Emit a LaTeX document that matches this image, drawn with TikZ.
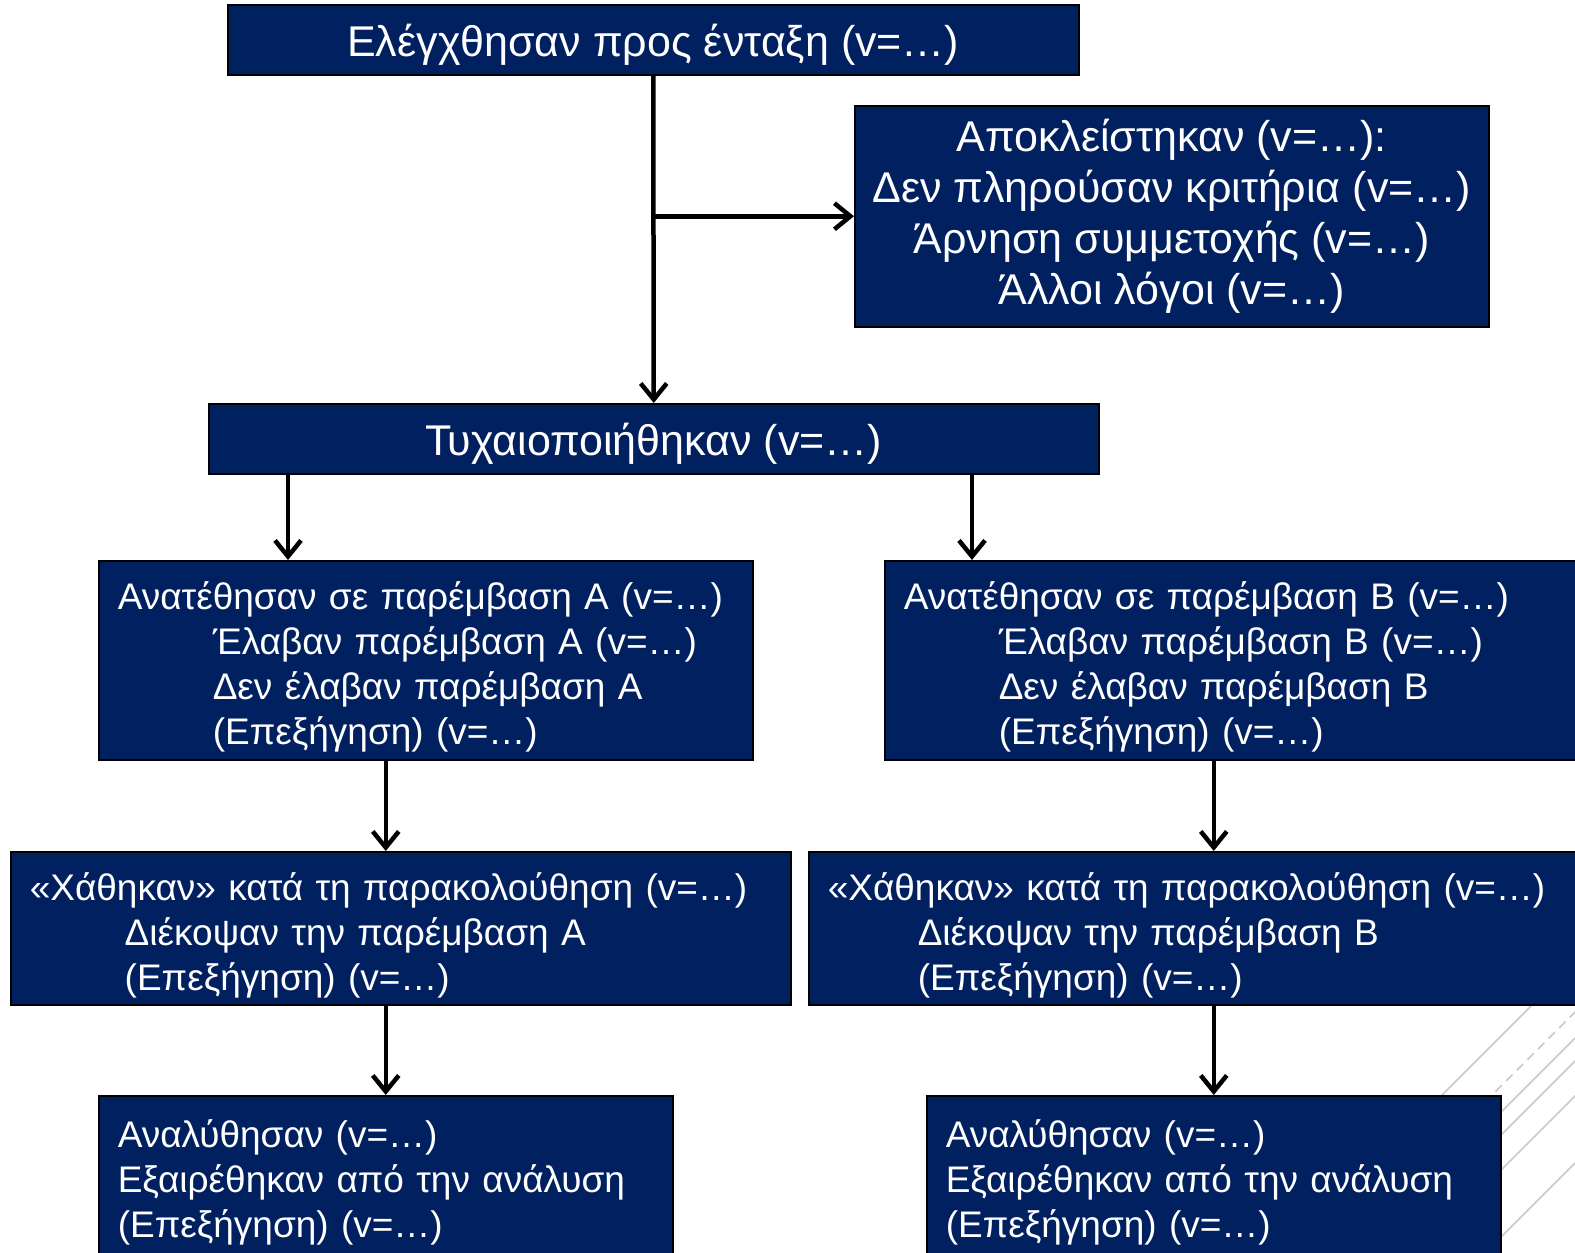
\documentclass[tikz,border=0pt]{standalone}
\usepackage{fontspec}
\setmainfont{Liberation Sans}
\usetikzlibrary{arrows.meta}
\definecolor{navy}{RGB}{0,32,96}
\colorlet{deco}{black!20}

\begin{document}
\begin{tikzpicture}[
            x=1pt, y=-1pt,
            every node/.append style={white, font=\fontsize{37}{45}\selectfont},
            box/.style={draw=black, line width=1.5pt, fill=navy, anchor=north west, inner sep=0pt,
                execute at begin node={\rule{0pt}{42pt}}},
            lbox/.style={box, inner xsep=19pt, align=left},
            bigtext/.style={font=\fontsize{43}{51}\selectfont},
            arr/.style={-{Straight Barb[length=16pt,width=26pt]}, line width=4.5pt, black},
            decoline/.style={deco, line width=1.8pt}
        ]
            \useasboundingbox (0,0) rectangle (1575,1253);
            \foreach \s in {2537,2613,2636,2671,2738}
                \draw [decoline] (1400,\s-1400) -- (1600,\s-1600);
            \draw [decoline,dash pattern=on 9pt off 6pt] (1400,1187) -- (1600,987);

            \node [box,bigtext,minimum width=851pt,minimum height=70pt] (top) at (227,4)
                {Ελέγχθησαν προς ένταξη (v=…)};
            \node [box,bigtext,minimum width=634pt,minimum height=221pt,align=center] (excl) at (854,105)
                {Αποκλείστηκαν (v=…):\\
                 Δεν πληρούσαν κριτήρια (v=…)\\
                 Άρνηση συμμετοχής (v=…)\\
                 Άλλοι λόγοι (v=…)};
            \node [box,bigtext,minimum width=890pt,minimum height=70pt] (rand) at (208,403)
                {Τυχαιοποιήθηκαν (v=…)};
            \node [lbox,text width=616pt,minimum height=199pt] (allocA) at (98,560)
                {Ανατέθησαν σε παρέμβαση A (v=…)\\
                 \hspace*{95pt}Έλαβαν παρέμβαση A (v=…)\\
                 \hspace*{95pt}Δεν έλαβαν παρέμβαση A\\
                 \hspace*{95pt}(Επεξήγηση) (v=…)};
            \node [lbox,text width=702pt,minimum height=199pt] (allocB) at (884,560)
                {Ανατέθησαν σε παρέμβαση B (v=…)\\
                 \hspace*{95pt}Έλαβαν παρέμβαση B (v=…)\\
                 \hspace*{95pt}Δεν έλαβαν παρέμβαση B\\
                 \hspace*{95pt}(Επεξήγηση) (v=…)};
            \node [lbox,text width=742pt,minimum height=153pt] (lostA) at (10,851)
                {«Χάθηκαν» κατά τη παρακολούθηση (v=…)\\
                 \hspace*{95pt}Διέκοψαν την παρέμβαση A\\
                 \hspace*{95pt}(Επεξήγηση) (v=…)};
            \node [lbox,text width=762pt,minimum height=153pt] (lostB) at (808,851)
                {«Χάθηκαν» κατά τη παρακολούθηση (v=…)\\
                 \hspace*{90pt}Διέκοψαν την παρέμβαση B\\
                 \hspace*{90pt}(Επεξήγηση) (v=…)};
            \node [lbox,text width=536pt,minimum height=160pt] (anaA) at (98,1095)
                {Αναλύθησαν (v=…)\\
                 Εξαιρέθηκαν από την ανάλυση\\
                 (Επεξήγηση) (v=…)};
            \node [lbox,text width=536pt,minimum height=160pt] (anaB) at (926,1095)
                {Αναλύθησαν (v=…)\\
                 Εξαιρέθηκαν από την ανάλυση\\
                 (Επεξήγηση) (v=…)};

            \draw [arr] (top.south) -- (rand.north);
            \draw [arr] (top.south |- excl.west) -- (excl.west);
            \draw [arr] ([xshift=80pt]rand.south west) -- ([xshift=80pt]rand.south west |- allocA.north);
            \draw [arr] ([xshift=88pt]allocB.north west |- rand.south) -- ([xshift=88pt]allocB.north west);
            \draw [arr] (allocA.south -| anaA.north) -- (lostA.north -| anaA.north);
            \draw [arr] (allocB.south -| anaB.north) -- (lostB.north -| anaB.north);
            \draw [arr] (lostA.south -| anaA.north) -- (anaA.north);
            \draw [arr] (lostB.south -| anaB.north) -- (anaB.north);
        \end{tikzpicture}
\end{document}
